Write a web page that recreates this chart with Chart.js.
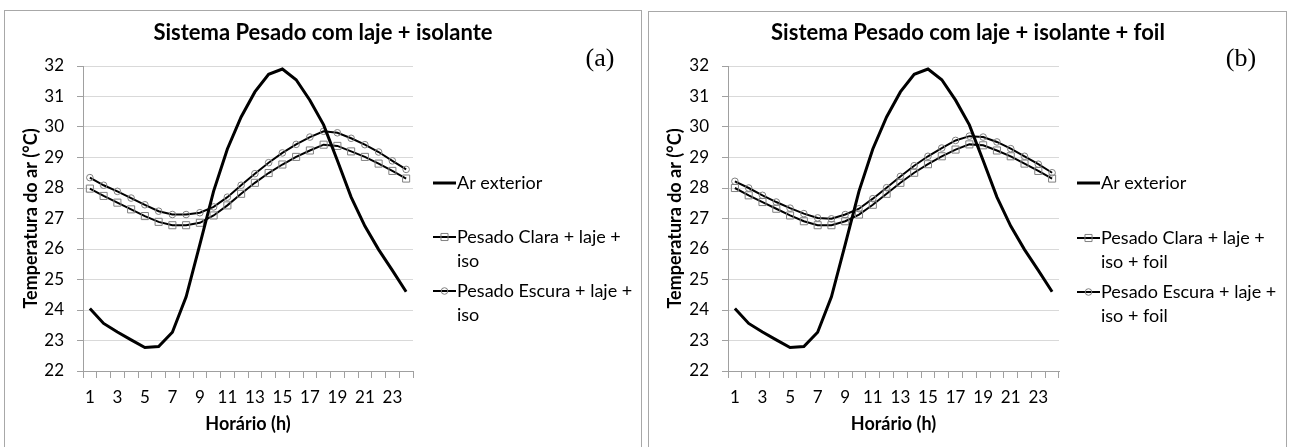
<!DOCTYPE html>
<html>
<head>
<meta charset="utf-8">
<script src="https://cdn.jsdelivr.net/npm/chart.js"></script>
<style>
  html, body { margin: 0; padding: 0; background: #fff; width: 1291px; height: 447px; overflow: hidden; }
  .box { position: absolute; border: 1px solid #a8a8a8; border-bottom: none; background: #fff; }
  canvas { display: block; }
</style>
</head>
<body>
<div class="box" id="boxA" style="left:4px; top:10px; width:636px; height:440px;"><canvas id="chartA" width="636" height="436"></canvas></div>
<div class="box" id="boxB" style="left:648px; top:11px; width:637px; height:440px;"><canvas id="chartB" width="637" height="435"></canvas></div>
<script>
// ---- data ----
const hours = [1,2,3,4,5,6,7,8,9,10,11,12,13,14,15,16,17,18,19,20,21,22,23,24];
const yTicks = [22,23,24,25,26,27,28,29,30,31,32];

const arExteriorA = [24.05,23.56,23.28,23.02,22.77,22.80,23.27,24.43,26.15,27.90,29.28,30.33,31.15,31.73,31.90,31.55,30.88,30.07,28.90,27.70,26.75,25.98,25.30,24.60];
const claraA  = [27.98,27.74,27.52,27.30,27.08,26.89,26.78,26.78,26.86,27.10,27.43,27.81,28.17,28.49,28.77,29.02,29.23,29.42,29.38,29.20,29.02,28.80,28.56,28.31];
const escuraA = [28.34,28.09,27.89,27.67,27.45,27.24,27.13,27.13,27.19,27.38,27.70,28.09,28.47,28.83,29.15,29.43,29.67,29.86,29.81,29.63,29.42,29.18,28.89,28.61];

const arExteriorB = [24.05,23.56,23.28,23.02,22.77,22.80,23.27,24.43,26.15,27.90,29.28,30.33,31.15,31.73,31.90,31.55,30.88,30.07,28.90,27.70,26.75,25.98,25.30,24.60];
const claraB  = [28.00,27.76,27.54,27.32,27.10,26.91,26.78,26.78,26.91,27.13,27.45,27.81,28.17,28.50,28.78,29.04,29.26,29.43,29.40,29.23,29.04,28.80,28.56,28.31];
const escuraB = [28.22,28.00,27.76,27.54,27.34,27.16,27.02,26.99,27.13,27.32,27.65,28.01,28.38,28.73,29.04,29.31,29.56,29.70,29.67,29.51,29.29,29.04,28.78,28.50];

const titleA = 'Sistema Pesado com laje + isolante';
const titleB = 'Sistema Pesado com laje + isolante + foil';
const legendA = [['Ar exterior'], ['Pesado Clara + laje +', 'iso'], ['Pesado Escura + laje +', 'iso']];
const legendB = [['Ar exterior'], ['Pesado Clara + laje +', 'iso + foil'], ['Pesado Escura + laje +', 'iso + foil']];
const xTitle = 'Horário (h)';
const yTitle = 'Temperatura do ar (°C)';

const FONT = 'Lato, "Open Sans", sans-serif';

function drawMarker(ctx, style, x, y, r) {
  ctx.save();
  ctx.strokeStyle = '#808080';
  ctx.lineWidth = 1;
  ctx.beginPath();
  if (style === 'rect') {
    const s = r * Math.SQRT1_2;
    ctx.rect(x - s, y - s, 2 * s, 2 * s);
  } else if (style === 'circle') {
    ctx.arc(x, y, r, 0, Math.PI * 2);
  }
  ctx.stroke();
  ctx.restore();
}

const decor = {
  id: 'decor',
  afterDraw(chart, args, o) {
    const ctx = chart.ctx, ca = chart.chartArea;
    ctx.save();
    ctx.fillStyle = '#000';
    ctx.textAlign = 'center';
    ctx.textBaseline = 'middle';
    ctx.font = 'bold 22px ' + FONT;
    ctx.fillText(o.title, o.titleX, o.titleY);
    ctx.font = 'bold 18px ' + FONT;
    ctx.fillText(xTitle, (ca.left + ca.right) / 2, o.xTitleY);
    ctx.save();
    ctx.translate(o.yTitleX, (ca.top + ca.bottom) / 2);
    ctx.rotate(-Math.PI / 2);
    ctx.fillText(yTitle, 0, 0);
    ctx.restore();
    ctx.font = '26px "Liberation Serif", serif';
    ctx.fillText(o.tag, o.tagX, o.tagY);
    // legend
    ctx.textAlign = 'left';
    ctx.font = '18px ' + FONT;
    chart.data.datasets.forEach((ds, i) => {
      const y = o.legendY[i];
      ctx.strokeStyle = ds.borderColor;
      ctx.lineWidth = ds.borderWidth;
      ctx.beginPath();
      ctx.moveTo(o.legendX, y);
      ctx.lineTo(o.legendX + 23, y);
      ctx.stroke();
      if (ds.pointRadius > 0) drawMarker(ctx, ds.pointStyle, o.legendX + 11.5, y, ds.pointRadius);
      o.legend[i].forEach((line, k) => {
        ctx.fillStyle = '#000';
        ctx.fillText(line, o.legendX + 24, y + k * 24);
      });
    });
    ctx.restore();
  }
};

function makeChart(id, ar, clara, escura, o) {
  const canvas = document.getElementById(id);
  const W = canvas.width, H = canvas.height;
  return new Chart(canvas, {
    type: 'line',
    data: {
      labels: hours,
      datasets: [
        { label: 'Ar exterior', data: ar, borderColor: '#000', borderWidth: 3, pointRadius: 0, pointHoverRadius: 0, tension: 0, fill: false },
        { label: 'Pesado Clara', data: clara, borderColor: '#000', borderWidth: 2, pointStyle: 'rect', pointRadius: 5,
          pointBorderColor: '#808080', pointBackgroundColor: 'rgba(255,255,255,0)', pointBorderWidth: 1, tension: 0, fill: false },
        { label: 'Pesado Escura', data: escura, borderColor: '#000', borderWidth: 2, pointStyle: 'circle', pointRadius: 3.3,
          pointBorderColor: '#808080', pointBackgroundColor: 'rgba(255,255,255,0)', pointBorderWidth: 1, tension: 0, fill: false }
      ]
    },
    options: {
      responsive: false,
      animation: false,
      devicePixelRatio: 1,
      events: [],
      layout: { padding: { left: 0, top: o.plotTop, right: W - o.plotRight, bottom: 0 } },
      plugins: { legend: { display: false }, tooltip: { enabled: false }, title: { display: false }, decor: o },
      scales: {
        x: {
          type: 'category',
          offset: true,
          grid: { display: true, offset: true, drawOnChartArea: false, drawTicks: true, tickLength: 7, color: '#a0a0a0', lineWidth: 1 },
          border: { display: true, color: '#a0a0a0', width: 1 },
          ticks: {
            autoSkip: false, maxRotation: 0, minRotation: 0, padding: 9, color: '#000',
            font: { family: FONT, size: 17 },
            callback: function (v, i) { return i % 2 === 0 ? String(hours[i]) : ''; }
          },
          afterFit: s => { s.height = H - o.plotBottom; }
        },
        y: {
          min: 22, max: 32,
          afterBuildTicks: s => { s.ticks = yTicks.map(v => ({ value: v })); },
          grid: { color: '#d9d9d9', lineWidth: 1, drawTicks: true, tickLength: 6, tickColor: '#a0a0a0' },
          border: { display: true, color: '#a0a0a0', width: 1 },
          ticks: { padding: 13, color: '#000', font: { family: FONT, size: 17 } },
          afterFit: s => { s.width = o.plotLeft; }
        }
      }
    },
    plugins: [decor]
  });
}

makeChart('chartA', arExteriorA, claraA, escuraA, {
  plotLeft: 78, plotTop: 55, plotBottom: 360, plotRight: 408,
  title: titleA, titleX: 318, titleY: 22, xTitleY: 413, yTitleX: 26,
  tag: '(a)', tagX: 595, tagY: 48,
  legend: legendA, legendX: 428, legendY: [172, 226, 280]
});
makeChart('chartB', arExteriorB, claraB, escuraB, {
  plotLeft: 79, plotTop: 54, plotBottom: 359, plotRight: 410,
  title: titleB, titleX: 319, titleY: 21, xTitleY: 412, yTitleX: 26,
  tag: '(b)', tagX: 592, tagY: 47,
  legend: legendB, legendX: 428, legendY: [171, 226, 280]
});
</script>
</body>
</html>
